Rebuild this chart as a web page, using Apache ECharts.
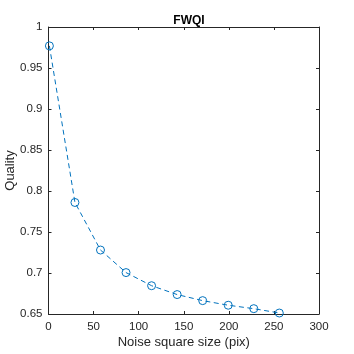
<!DOCTYPE html>
<html><head><meta charset="utf-8">
<script src="https://cdn.jsdelivr.net/npm/echarts@6/dist/echarts.min.js"></script>
<style>html,body{margin:0;padding:0;background:#fff}#c{width:354px;height:354px}</style>
</head><body><div id="c"></div>
<script>
var xValues = [1, 29.33, 57.67, 86, 114.33, 142.67, 171, 199.33, 227.67, 256];
var quality = [0.977, 0.786, 0.728, 0.7005, 0.6845, 0.6737, 0.6663, 0.6607, 0.6565, 0.6512];
var titleText = 'FWQI';
var xName = 'Noise square size (pix)';
var yName = 'Quality';

var axisCol = '#262626';
var font = 'Liberation Sans, Arial, sans-serif';
var chart = echarts.init(document.getElementById('c'), null, {renderer: 'canvas'});
var baseAxis = {
  axisLine: {show: true, onZero: false, lineStyle: {color: axisCol, width: 1}},
  axisTick: {show: true, inside: true, length: 3, lineStyle: {color: axisCol}},
  splitLine: {show: false},
  axisLabel: {color: axisCol, fontSize: 11.5, fontFamily: font}
};
chart.setOption({
  animation: false,
  title: {text: titleText, left: 184, top: 10, textAlign: 'center',
    textStyle: {fontSize: 12, fontWeight: 'bold', color: '#000', fontFamily: font}},
  grid: {left: 48.5, right: 35, top: 27, bottom: 40, containLabel: false, outerBoundsMode: 'none'},
  xAxis: [
    Object.assign({}, baseAxis, {type: 'value', min: 0, max: 300, interval: 50, position: 'bottom',
      name: xName, nameLocation: 'middle', nameGap: 22, nameMoveOverlap: false,
      nameTextStyle: {color: axisCol, fontSize: 13, fontFamily: font},
      axisLabel: {color: axisCol, fontSize: 11.5, fontFamily: font, margin: 7}}),
    Object.assign({}, baseAxis, {type: 'value', min: 0, max: 300, interval: 50, position: 'top',
      axisLabel: {show: false}})
  ],
  yAxis: [
    Object.assign({}, baseAxis, {type: 'value', min: 0.65, max: 1, interval: 0.05, position: 'left',
      name: yName, nameLocation: 'middle', nameGap: 32, nameMoveOverlap: false,
      nameTextStyle: {color: axisCol, fontSize: 13, fontFamily: font},
      axisLabel: {color: axisCol, fontSize: 11.5, fontFamily: font, margin: 6,
        formatter: function(v){ return String(Math.round(v*100)/100); }}}),
    Object.assign({}, baseAxis, {type: 'value', min: 0.65, max: 1, interval: 0.05, position: 'right',
      axisLabel: {show: false}})
  ],
  series: [{
    type: 'line',
    data: xValues.map(function(x, i){ return [x, quality[i]]; }),
    smooth: false,
    symbol: 'circle', symbolSize: 8,
    itemStyle: {color: 'rgba(255,255,255,0)', borderColor: '#0072BD', borderWidth: 1},
    lineStyle: {color: '#0072BD', width: 1, type: [5, 3.5]},
    clip: false
  }]
});
</script></body></html>
